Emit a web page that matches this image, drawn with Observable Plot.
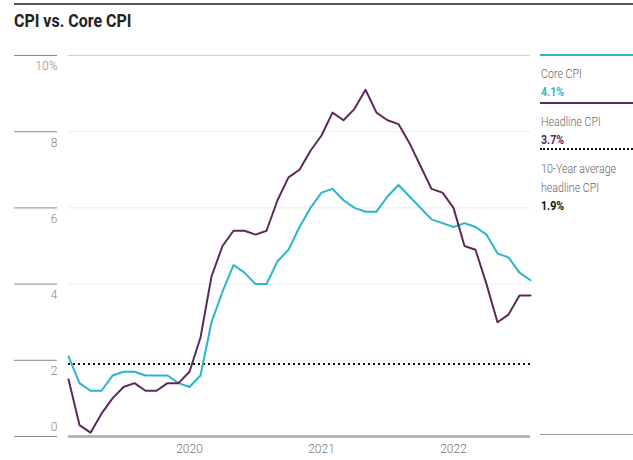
<!DOCTYPE html>
<html>
<head>
<meta charset="utf-8">
<script src="https://cdn.jsdelivr.net/npm/d3@7"></script>
<script src="https://cdn.jsdelivr.net/npm/@observablehq/plot@0.6"></script>
<style>
  html, body { margin: 0; padding: 0; background: #fff; }
  body { font-family: Roboto, "Liberation Sans", sans-serif; }
  #wrap { position: relative; width: 633px; height: 460px; overflow: hidden; }
  #topline { position: absolute; left: 14px; top: 3px; width: 619px; height: 2px; background: #555; }
  #title { position: absolute; left: 14px; top: 11px; font-size: 19px; line-height: 19px; font-weight: bold; color: #222; white-space: nowrap; transform: scaleX(0.84); transform-origin: 0 0; }
  #chart { position: absolute; left: 0; top: 45px; }
  #legend { position: absolute; left: 540px; top: 0; width: 93px; height: 460px; }
  .lline { position: absolute; left: 0; width: 93px; }
  .ltxt { position: absolute; left: 1px; font-size: 13px; line-height: 13px; color: #666; white-space: nowrap; transform: scaleX(0.82); transform-origin: 0 0; font-weight: 300; }
  .lval { font-weight: bold; }
</style>
</head>
<body>
<div id="wrap">
  <div id="topline"></div>
  <div id="title"></div>
  <div id="chart"></div>
  <div id="legend"></div>
</div>
<script>
// ---- data (monthly) ----
const coreCPI = [2.1,1.4,1.2,1.2,1.6,1.7,1.7,1.6,1.6,1.6,1.4,1.3,1.6,3.0,3.8,4.5,4.3,4.0,4.0,4.6,4.9,5.5,6.0,6.4,6.5,6.2,6.0,5.9,5.9,6.3,6.6,6.3,6.0,5.7,5.6,5.5,5.6,5.5,5.3,4.8,4.7,4.3,4.1];
const headlineCPI = [1.5,0.3,0.1,0.6,1.0,1.3,1.4,1.2,1.2,1.4,1.4,1.7,2.6,4.2,5.0,5.4,5.4,5.3,5.4,6.2,6.8,7.0,7.5,7.9,8.5,8.3,8.6,9.1,8.5,8.3,8.2,7.7,7.1,6.5,6.4,6.0,5.0,4.9,4.0,3.0,3.2,3.7,3.7];
const tenYearAvg = 1.9;
const xTickPositions = [11, 23, 35];
const xTickLabels = ["2020", "2021", "2022"];
const yTicks = [0, 2, 4, 6, 8, 10];
const titleText = "CPI vs. Core CPI";
const legendNames = ["Core CPI", "Headline CPI", "10-Year average", "headline CPI"];
const legendValues = ["4.1%", "3.7%", "1.9%"];

const TEAL = "#2bb4cb", PURPLE = "#5b2a5a", GRAY = "#8a8a8a";
const rows = coreCPI.map((c, i) => ({i, core: c, headline: headlineCPI[i]}));

document.getElementById("title").textContent = titleText;

const chart = Plot.plot({
  width: 540,
  height: 415,
  marginLeft: 68,
  marginRight: 10,
  marginTop: 10,
  marginBottom: 24,
  style: {fontFamily: 'Roboto, "Liberation Sans", sans-serif', fontWeight: 300, background: "transparent"},
  x: {domain: [0, rows.length - 1]},
  y: {domain: [0, 10]},
  marks: [
    Plot.ruleY(yTicks.filter(d => d > 0 && d < 10), {stroke: "#ececec", strokeWidth: 1}),
    Plot.ruleY([10], {stroke: "#cfcfcf", strokeWidth: 1}),
    Plot.axisY({ticks: yTicks, tickSize: 43, dx: -11, stroke: "#8a8a8a", tickFormat: () => "", label: null}),
    Plot.axisY({ticks: yTicks.filter(d => d > 0), tickSize: 0, tickPadding: 0, dx: -11, dy: 11, fontSize: 12, fill: GRAY,
      tickFormat: d => d === 10 ? "10%" : String(d), label: null}),
    Plot.axisY({ticks: [0], tickSize: 0, tickPadding: 0, dx: -11, dy: -9, fontSize: 12, fill: GRAY,
      tickFormat: d => String(d), label: null}),
    Plot.axisX({ticks: xTickPositions, tickSize: 0, tickPadding: 8, fontSize: 12, fill: "#777",
      tickFormat: d => xTickLabels[xTickPositions.indexOf(d)], label: null}),
    Plot.ruleY([0], {stroke: "#aaa", strokeWidth: 2.5}),
    Plot.ruleY([tenYearAvg], {stroke: "#111", strokeWidth: 2, strokeDasharray: "2,3"}),
    Plot.line(rows, {x: "i", y: "core", stroke: TEAL, strokeWidth: 2}),
    Plot.line(rows, {x: "i", y: "headline", stroke: PURPLE, strokeWidth: 2})
  ]
});
document.getElementById("chart").appendChild(chart);

// ---- legend ----
const lg = document.getElementById("legend");
function addLine(top, style) {
  const d = document.createElement("div");
  d.className = "lline";
  d.style.top = top + "px";
  Object.assign(d.style, style);
  lg.appendChild(d);
}
function addText(baseline, text, cls, color) {
  const d = document.createElement("div");
  d.className = "ltxt" + (cls ? " " + cls : "");
  d.style.top = (baseline - 11) + "px";
  if (color) d.style.color = color;
  d.textContent = text;
  lg.appendChild(d);
}
addLine(54, {height: "2px", background: TEAL});
addText(78, legendNames[0]);
addText(96, legendValues[0], "lval", TEAL);
addLine(102, {height: "2px", background: PURPLE});
addText(126, legendNames[1]);
addText(144, legendValues[1], "lval", PURPLE);
addLine(148, {height: "0", borderTop: "2px dotted #111"});
addText(173, legendNames[2]);
addText(192, legendNames[3]);
addText(210, legendValues[2], "lval", "#111");
addLine(434, {height: "1px", background: "#999"});
</script>
</body>
</html>
